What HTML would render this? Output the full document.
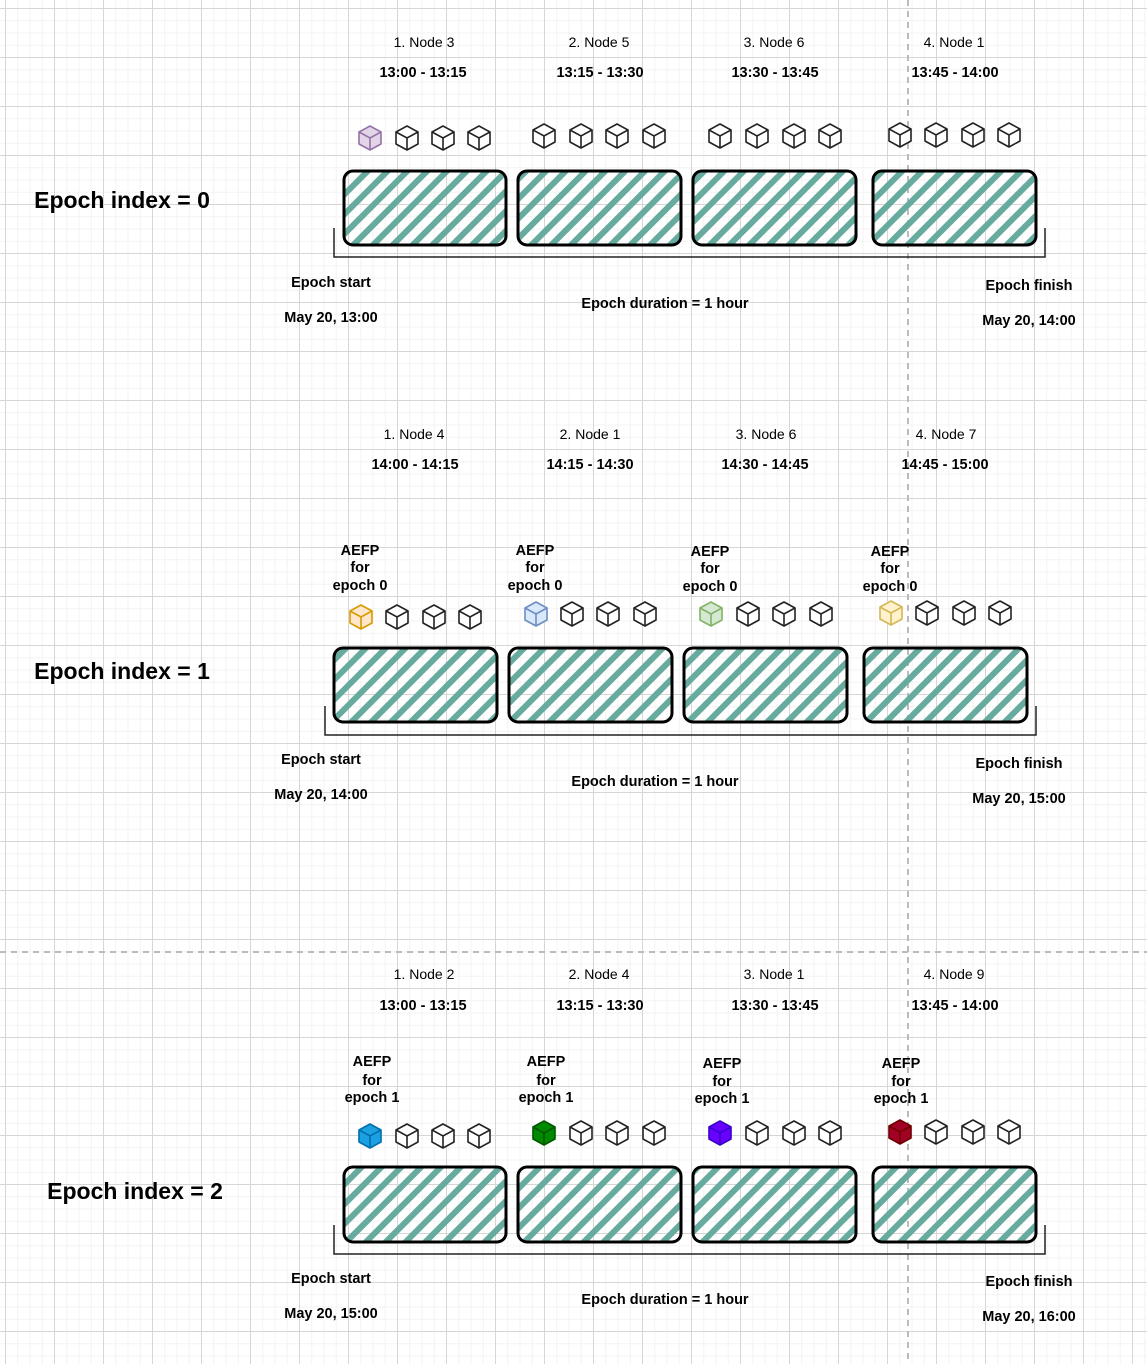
<!DOCTYPE html>
<html><head><meta charset="utf-8"><style>
html,body{margin:0;padding:0}
body{width:1147px;height:1364px;overflow:hidden;position:relative;font-family:"Liberation Sans",sans-serif;
background-color:#fff;
background-image:
linear-gradient(to right,#d6d6d6 1px,transparent 1px),
linear-gradient(to bottom,#d6d6d6 1px,transparent 1px),
linear-gradient(to right,#f3f3f3 1px,transparent 1px),
linear-gradient(to bottom,#f3f3f3 1px,transparent 1px);
background-size:49px 49px,49px 49px,12.25px 12.25px,12.25px 12.25px;
background-position:5px 8px,5px 8px,5px 8px,5px 8px;}
svg{position:absolute;left:0;top:0}
</style></head><body>
<svg width="1147" height="1364" viewBox="0 0 1147 1364" xmlns="http://www.w3.org/2000/svg" font-family="Liberation Sans, sans-serif">
<defs>
<pattern id="h" patternUnits="userSpaceOnUse" width="14" height="14" patternTransform="rotate(45)">
<rect x="0" y="0" width="6" height="14" fill="#67AB9F"/>
</pattern>
<g id="c"><path d="M0,-12 L11,-6 L11,6 L0,12 L-11,6 L-11,-6 Z" stroke-width="1.6" stroke-linejoin="round"/><path d="M-11,-6 L0,0 L11,-6 M0,0 L0,12" fill="none" stroke-width="1.6"/></g>
</defs>
<line x1="908" y1="0" x2="908" y2="1364" stroke="#bbb" stroke-width="2" stroke-dasharray="6,5"/>
<line x1="0" y1="952" x2="1147" y2="952" stroke="#bbb" stroke-width="2" stroke-dasharray="6,5"/>

<g stroke="#000">
<g fill="url(#h)" stroke-width="3">
<rect x="344" y="171" width="162" height="74" rx="9"/><rect x="518" y="171" width="163" height="74" rx="9"/><rect x="693" y="171" width="163" height="74" rx="9"/><rect x="873" y="171" width="163" height="74" rx="9"/>
<rect x="334" y="648" width="163" height="74" rx="9"/><rect x="509" y="648" width="163" height="74" rx="9"/><rect x="684" y="648" width="163" height="74" rx="9"/><rect x="864" y="648" width="163" height="74" rx="9"/>
<rect x="344" y="1167" width="162" height="75" rx="9"/><rect x="518" y="1167" width="163" height="75" rx="9"/><rect x="693" y="1167" width="163" height="75" rx="9"/><rect x="873" y="1167" width="163" height="75" rx="9"/>
</g>
<g fill="none" stroke="#222" stroke-width="1.5">
<path d="M334,228 V257 H1045 V228"/><path d="M325,706 V735 H1036 V706"/><path d="M334,1225 V1254 H1045 V1225"/>
</g>
</g>

<g fill="#fff" stroke="#222">
<use href="#c" x="370" y="138" fill="#e1d5e7" stroke="#9673a6"/><use href="#c" x="407" y="138"/><use href="#c" x="443" y="138"/><use href="#c" x="479" y="138"/>
<use href="#c" x="544" y="136"/><use href="#c" x="581" y="136"/><use href="#c" x="617" y="136"/><use href="#c" x="654" y="136"/>
<use href="#c" x="720" y="136"/><use href="#c" x="757" y="136"/><use href="#c" x="794" y="136"/><use href="#c" x="830" y="136"/>
<use href="#c" x="900" y="135"/><use href="#c" x="936" y="135"/><use href="#c" x="973" y="135"/><use href="#c" x="1009" y="135"/>

<use href="#c" x="361" y="617" fill="#ffe6cc" stroke="#d79b00"/><use href="#c" x="397" y="617"/><use href="#c" x="434" y="617"/><use href="#c" x="470" y="617"/>
<use href="#c" x="536" y="614" fill="#dae8fc" stroke="#6c8ebf"/><use href="#c" x="572" y="614"/><use href="#c" x="608" y="614"/><use href="#c" x="645" y="614"/>
<use href="#c" x="711" y="614" fill="#d5e8d4" stroke="#82b366"/><use href="#c" x="748" y="614"/><use href="#c" x="784" y="614"/><use href="#c" x="821" y="614"/>
<use href="#c" x="891" y="613" fill="#fff2cc" stroke="#d6b656"/><use href="#c" x="927" y="613"/><use href="#c" x="964" y="613"/><use href="#c" x="1000" y="613"/>

<use href="#c" x="370" y="1136" fill="#1ba1e2" stroke="#006eaf"/><use href="#c" x="407" y="1136"/><use href="#c" x="443" y="1136"/><use href="#c" x="479" y="1136"/>
<use href="#c" x="544" y="1133" fill="#008a00" stroke="#005700"/><use href="#c" x="581" y="1133"/><use href="#c" x="617" y="1133"/><use href="#c" x="654" y="1133"/>
<use href="#c" x="720" y="1133" fill="#6a00ff" stroke="#3700cc"/><use href="#c" x="757" y="1133"/><use href="#c" x="794" y="1133"/><use href="#c" x="830" y="1133"/>
<use href="#c" x="900" y="1132" fill="#a20025" stroke="#6f0000"/><use href="#c" x="936" y="1132"/><use href="#c" x="973" y="1132"/><use href="#c" x="1009" y="1132"/>
</g>

<g font-size="14" fill="#000" text-anchor="middle">
<text x="424" y="47">1. Node 3</text><text x="599" y="47">2. Node 5</text><text x="774" y="47">3. Node 6</text><text x="954" y="47">4. Node 1</text>
<text x="414" y="439">1. Node 4</text><text x="590" y="439">2. Node 1</text><text x="766" y="439">3. Node 6</text><text x="946" y="439">4. Node 7</text>
<text x="424" y="979">1. Node 2</text><text x="599" y="979">2. Node 4</text><text x="774" y="979">3. Node 1</text><text x="954" y="979">4. Node 9</text>
<g font-weight="bold" font-size="14.5">
<text x="423" y="77">13:00 - 13:15</text><text x="600" y="77">13:15 - 13:30</text><text x="775" y="77">13:30 - 13:45</text><text x="955" y="77">13:45 - 14:00</text>
<text x="415" y="469">14:00 - 14:15</text><text x="590" y="469">14:15 - 14:30</text><text x="765" y="469">14:30 - 14:45</text><text x="945" y="469">14:45 - 15:00</text>
<text x="423" y="1010">13:00 - 13:15</text><text x="600" y="1010">13:15 - 13:30</text><text x="775" y="1010">13:30 - 13:45</text><text x="955" y="1010">13:45 - 14:00</text>

<text x="331" y="287">Epoch start</text><text x="331" y="322">May 20, 13:00</text><text x="665" y="308">Epoch duration = 1 hour</text><text x="1029" y="290">Epoch finish</text><text x="1029" y="325">May 20, 14:00</text>
<text x="321" y="764">Epoch start</text><text x="321" y="799">May 20, 14:00</text><text x="655" y="786">Epoch duration = 1 hour</text><text x="1019" y="768">Epoch finish</text><text x="1019" y="803">May 20, 15:00</text>
<text x="331" y="1283">Epoch start</text><text x="331" y="1318">May 20, 15:00</text><text x="665" y="1304">Epoch duration = 1 hour</text><text x="1029" y="1286">Epoch finish</text><text x="1029" y="1321">May 20, 16:00</text>

<text x="360" y="555">AEFP</text><text x="360" y="572">for</text><text x="360" y="590">epoch 0</text>
<text x="535" y="555">AEFP</text><text x="535" y="572">for</text><text x="535" y="590">epoch 0</text>
<text x="710" y="556">AEFP</text><text x="710" y="573">for</text><text x="710" y="591">epoch 0</text>
<text x="890" y="556">AEFP</text><text x="890" y="573">for</text><text x="890" y="591">epoch 0</text>
<text x="372" y="1066">AEFP</text><text x="372" y="1085">for</text><text x="372" y="1102">epoch 1</text>
<text x="546" y="1066">AEFP</text><text x="546" y="1085">for</text><text x="546" y="1102">epoch 1</text>
<text x="722" y="1068">AEFP</text><text x="722" y="1086">for</text><text x="722" y="1103">epoch 1</text>
<text x="901" y="1068">AEFP</text><text x="901" y="1086">for</text><text x="901" y="1103">epoch 1</text>
</g>
<g font-weight="bold" font-size="23">
<text x="122" y="208">Epoch index = 0</text><text x="122" y="679">Epoch index = 1</text><text x="135" y="1199">Epoch index = 2</text>
</g>
</g>
</svg>
</body></html>
